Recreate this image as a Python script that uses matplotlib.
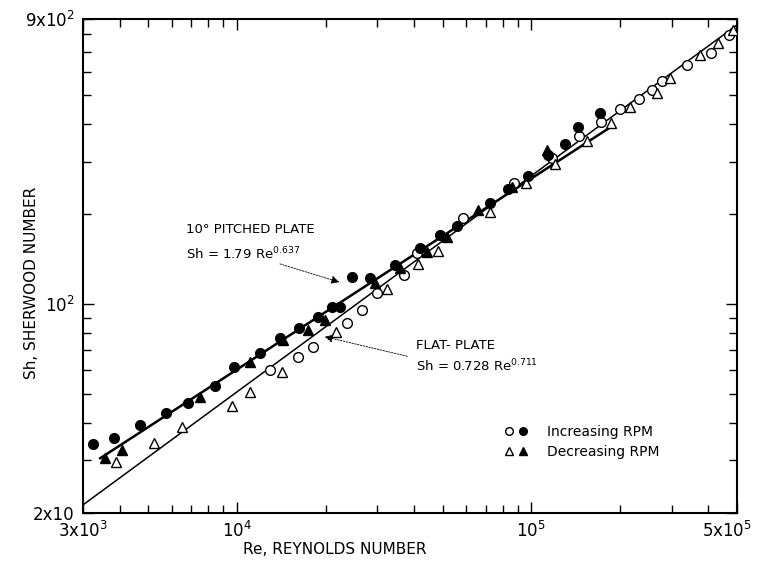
import matplotlib
matplotlib.use('Agg')
import matplotlib.pyplot as plt
import matplotlib.transforms as mtransforms
from matplotlib.lines import Line2D
from matplotlib.legend_handler import HandlerTuple
from matplotlib.ticker import FixedLocator, FixedFormatter, NullFormatter

plt.rcParams['font.family'] = ['DejaVu Sans']
plt.rcParams['mathtext.default'] = 'regular'

# 10 deg pitched plate -- increasing RPM (filled circles)
pit_inc_re = [3244, 3823, 4686, 5741, 6820, 8424, 9772, 11980, 14010, 16250,
              18850, 21030, 22390, 24590, 28310, 34430, 41860, 48940, 55900,
              72380, 83310, 97430, 113900, 130100, 144100, 171100]
pit_inc_sh = [34.0, 35.6, 39.4, 43.2, 46.7, 53.2, 61.6, 68.6, 77.0, 83.2,
              90.6, 97.8, 97.8, 123, 122, 135, 154, 170, 183,
              218, 243, 268, 316, 344, 391, 436]

# 10 deg pitched plate -- decreasing RPM (filled triangles)
pit_dec_re = [3563, 4071, 7491, 11080, 14340, 17430, 19920, 29440, 35800,
              44210, 51690, 65910, 85960, 113000]
pit_dec_sh = [30.6, 32.5, 48.9, 64.0, 75.9, 81.9, 88.5, 118, 132,
              149, 168, 207, 247, 328]

# flat plate -- increasing RPM (open circles)
flat_inc_re = [12950, 16120, 18130, 23650, 26600, 29910, 36940, 40890, 58620,
               87320, 117600, 145200, 172500, 200100, 232100, 256900, 277900,
               337900, 407600, 469300]
flat_inc_sh = [60.2, 66.5, 71.9, 86.5, 95.6, 109, 125, 148, 194,
               254, 308, 365, 407, 450, 486, 521, 558,
               631, 693, 796]

# flat plate -- decreasing RPM (open triangles)
flat_dec_re = [3884, 5228, 6509, 9622, 11080, 14230, 21700, 32330, 41210,
               48180, 72380, 95920, 120300, 154600, 186500, 216300, 267200,
               295800, 374100, 430500, 484200]
flat_dec_sh = [29.6, 34.3, 38.8, 45.6, 50.8, 59.3, 80.7, 112, 136,
               151, 203, 254, 294, 352, 404, 457, 509,
               571, 682, 748, 827]

# correlation lines (end points)
pit_fit_re = [3430, 185000]
pit_fit_sh = [30.5, 390]
flat_fit_re = [3000, 500000]
flat_fit_sh = [21.3, 860]

x_major = [3e3, 1e4, 1e5, 5e5]
x_major_labels = ['3x10$^3$', '10$^4$', '10$^5$', '5x10$^5$']
x_minor = [4e3, 5e3, 6e3, 7e3, 8e3, 9e3, 2e4, 3e4, 4e4, 5e4, 6e4, 7e4, 8e4,
           9e4, 2e5, 3e5, 4e5]
y_major = [20, 100, 900]
y_major_labels = ['2x10', '10$^2$', '9x10$^2$']
y_minor = [30, 40, 50, 60, 70, 80, 90, 200, 300, 400, 500, 600, 700, 800]

fig = plt.figure(figsize=(7.59, 5.66), dpi=100)
ax = fig.add_axes([0.1094, 0.0936, 0.8616, 0.8728])

ax.plot(pit_fit_re, pit_fit_sh, color='black', lw=1.8, zorder=2)
ax.plot(flat_fit_re, flat_fit_sh, color='black', lw=1.1, zorder=2)

ms = 7
ax.plot(flat_inc_re, flat_inc_sh, 'o', ms=ms, mfc='white', mec='black', mew=1.0, zorder=3)
ax.plot(flat_dec_re, flat_dec_sh, '^', ms=ms + 0.5, mfc='white', mec='black', mew=1.0, zorder=3)
ax.plot(pit_inc_re, pit_inc_sh, 'o', ms=ms, mfc='black', mec='black', zorder=4)
ax.plot(pit_dec_re, pit_dec_sh, '^', ms=ms + 0.5, mfc='black', mec='black', zorder=4)

ax.set_xscale('log')
ax.set_yscale('log')
ax.set_xlim(3e3, 5e5)
ax.set_ylim(20, 900)

ax.xaxis.set_major_locator(FixedLocator(x_major))
ax.xaxis.set_major_formatter(FixedFormatter(x_major_labels))
ax.xaxis.set_minor_locator(FixedLocator(x_minor))
ax.xaxis.set_minor_formatter(NullFormatter())
ax.yaxis.set_major_locator(FixedLocator(y_major))
ax.yaxis.set_major_formatter(FixedFormatter(y_major_labels))
ax.yaxis.set_minor_locator(FixedLocator(y_minor))
ax.yaxis.set_minor_formatter(NullFormatter())

ax.tick_params(which='both', direction='in', top=True, right=True, width=1.0)
ax.tick_params(which='major', length=8, labelsize=12, pad=6)
ax.tick_params(which='minor', length=5.5)
for s in ax.spines.values():
    s.set_linewidth(1.5)

# pull the last x label inside the figure
last = ax.get_xticklabels()[-1]
last.set_transform(last.get_transform() +
                   mtransforms.ScaledTranslation(-10 / 100, 0, fig.dpi_scale_trans))

ax.set_xlabel('Re, REYNOLDS NUMBER', fontsize=11)
ax.set_ylabel('Sh, SHERWOOD NUMBER', fontsize=11)
ax.xaxis.set_label_coords(0.385, -0.058)
ax.yaxis.set_label_coords(-0.067, 0.466)

# annotations
ax.text(0.157, 0.573, '10° PITCHED PLATE', transform=ax.transAxes,
        fontsize=9.5, va='center', ha='left')
ax.text(0.157, 0.524, 'Sh = 1.79 Re$^{0.637}$', transform=ax.transAxes,
        fontsize=9.5, va='center', ha='left')
ax.annotate('', xy=(22750, 117.7), xytext=(0.297, 0.506),
            textcoords='axes fraction',
            arrowprops=dict(arrowstyle='-|>', lw=0.6, color='black',
                            linestyle=(0, (2, 1.5)), mutation_scale=12))

ax.text(0.509, 0.340, 'FLAT- PLATE', transform=ax.transAxes,
        fontsize=9.5, va='center', ha='left')
ax.text(0.509, 0.298, 'Sh = 0.728 Re$^{0.711}$', transform=ax.transAxes,
        fontsize=9.5, va='center', ha='left')
ax.annotate('', xy=(19450, 78.2), xytext=(0.500, 0.316),
            textcoords='axes fraction',
            arrowprops=dict(arrowstyle='-|>', lw=0.6, color='black',
                            linestyle=(0, (2, 1.5)), mutation_scale=12))

# legend
oc = Line2D([], [], marker='o', ls='none', ms=5.5, mfc='white', mec='black')
fc = Line2D([], [], marker='o', ls='none', ms=5.5, mfc='black', mec='black')
ot = Line2D([], [], marker='^', ls='none', ms=5.5, mfc='white', mec='black')
ft = Line2D([], [], marker='^', ls='none', ms=5.5, mfc='black', mec='black')
ax.legend([(oc, fc), (ot, ft)], ['Increasing RPM', 'Decreasing RPM'],
          handler_map={tuple: HandlerTuple(ndivide=None, pad=0.3)},
          loc='center left', bbox_to_anchor=(0.645, 0.144), frameon=False,
          fontsize=10, handlelength=1.6, handletextpad=1.4, labelspacing=0.45,
          borderpad=0, borderaxespad=0)

fig.savefig('out.png', dpi=100)
